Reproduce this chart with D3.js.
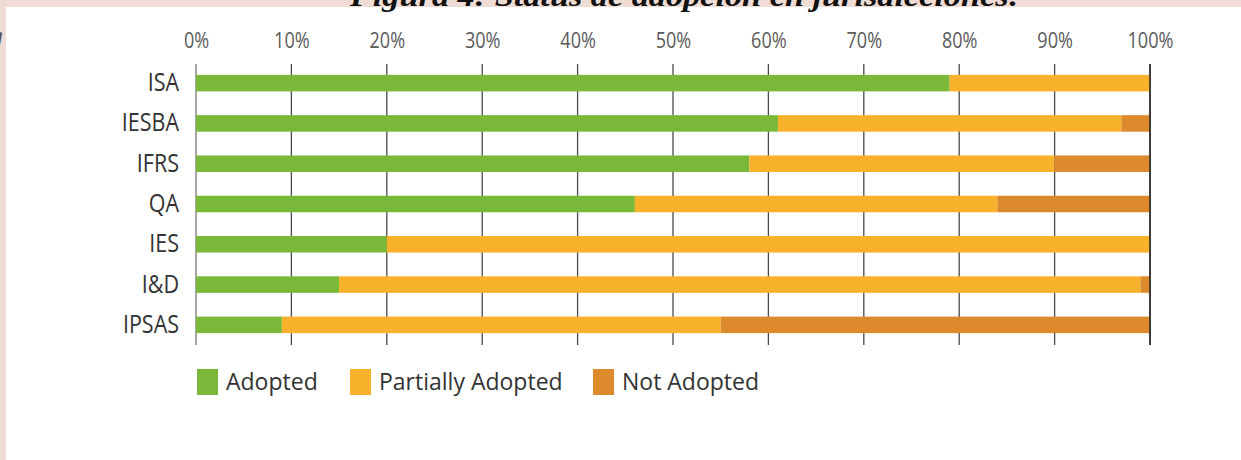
<!DOCTYPE html>
<html><head><meta charset="utf-8">
<script src="https://cdn.jsdelivr.net/npm/d3@7"></script>
<style>html,body{margin:0;padding:0;background:#efdcd5;overflow:hidden}</style>
</head><body>
<svg id="chart" width="1241" height="460"></svg>
<script>
const categories = ["ISA","IESBA","IFRS","QA","IES","I&D","IPSAS"];
const adopted = [79, 61, 58, 46, 20, 15, 9];
const partiallyAdopted = [21, 36, 32, 38, 80, 84, 46];
const notAdopted = [0, 3, 10, 16, 0, 1, 45];
const seriesNames = ["Adopted","Partially Adopted","Not Adopted"];
const seriesColors = ["#7ab83a","#f8b12a","#dc8a2c"];
const tickValues = [0,10,20,30,40,50,60,70,80,90,100];
const titleText = "Figura 4: Status de adopción en jurisdicciones:";

const svg = d3.select("#chart");
const font = "'Open Sans', sans-serif";

// background panel
svg.append("rect").attr("x",0).attr("y",0).attr("width",1241).attr("height",460).attr("fill","#efdcd5");
svg.append("rect").attr("x",6).attr("y",7).attr("width",1235).attr("height",453).attr("fill","#ffffff");
// cut caption at top
svg.append("text").attr("x",685).attr("y",6).attr("text-anchor","middle")
  .attr("textLength",670).attr("lengthAdjust","spacingAndGlyphs")
  .attr("font-family","'Liberation Serif', serif").attr("font-style","italic").attr("font-weight","bold")
  .attr("font-size",30).attr("fill","#111").text(titleText);
svg.append("text").attr("x",-12).attr("y",46)
  .attr("font-family","'Liberation Serif', serif").attr("font-style","italic")
  .attr("font-size",30).attr("fill","#555").text("g");

const x = d3.scaleLinear().domain([0,100]).range([196,1150]);
const y = d3.scaleBand().domain(categories).range([63,345]).paddingInner(0.59).paddingOuter(0.295);

// grid lines
svg.append("g").selectAll("line").data(tickValues).join("line")
  .attr("x1",d=>x(d)).attr("x2",d=>x(d)).attr("y1",64).attr("y2",345)
  .attr("stroke",d=>(d===0)?"#777":"#4a4a4a").attr("stroke-width",1.3);

// tick labels
const xAxis = d3.axisTop(x).tickValues(tickValues).tickFormat(d=>d+"%").tickSize(0).tickPadding(0);
const gx = svg.append("g").attr("transform","translate(0,48)").call(xAxis);
gx.select(".domain").remove();
gx.selectAll("text").attr("font-family",font).attr("font-size",21).attr("fill","#5a5a5a")
  .attr("transform","scale(0.86,1)");

// stacked bars
const rows = categories.map((c,i)=>({cat:c, "Adopted":adopted[i], "Partially Adopted":partiallyAdopted[i], "Not Adopted":notAdopted[i]}));
const stack = d3.stack().keys(seriesNames)(rows);
svg.append("g").selectAll("g").data(stack).join("g")
  .attr("fill",(d,i)=>seriesColors[i])
  .selectAll("rect").data(d=>d).join("rect")
  .attr("x",d=>x(d[0])).attr("width",d=>x(d[1])-x(d[0]))
  .attr("y",d=>y(d.data.cat)).attr("height",y.bandwidth());

// 100% line on top
svg.append("line").attr("x1",x(100)).attr("x2",x(100)).attr("y1",64).attr("y2",345)
  .attr("stroke","#222").attr("stroke-width",1.5);

// category labels
const yAxis = d3.axisLeft(y).tickSize(0).tickPadding(0);
const gy = svg.append("g").attr("transform","translate(179,0)").call(yAxis);
gy.select(".domain").remove();
gy.selectAll("text").attr("font-family",font).attr("font-size",25).attr("fill","#333")
  .attr("transform","scale(0.86,1)");

// legend
const legendX = [197, 350, 593];
const lg = svg.append("g").selectAll("g").data(seriesNames).join("g")
  .attr("transform",(d,i)=>`translate(${legendX[i]},369)`);
lg.append("rect").attr("width",21).attr("height",26).attr("fill",(d,i)=>seriesColors[i]);
lg.append("text").attr("x",29).attr("y",13).attr("dy","0.35em")
  .attr("font-family",font).attr("font-size",23).attr("fill","#333").text(d=>d);
</script>
</body></html>
